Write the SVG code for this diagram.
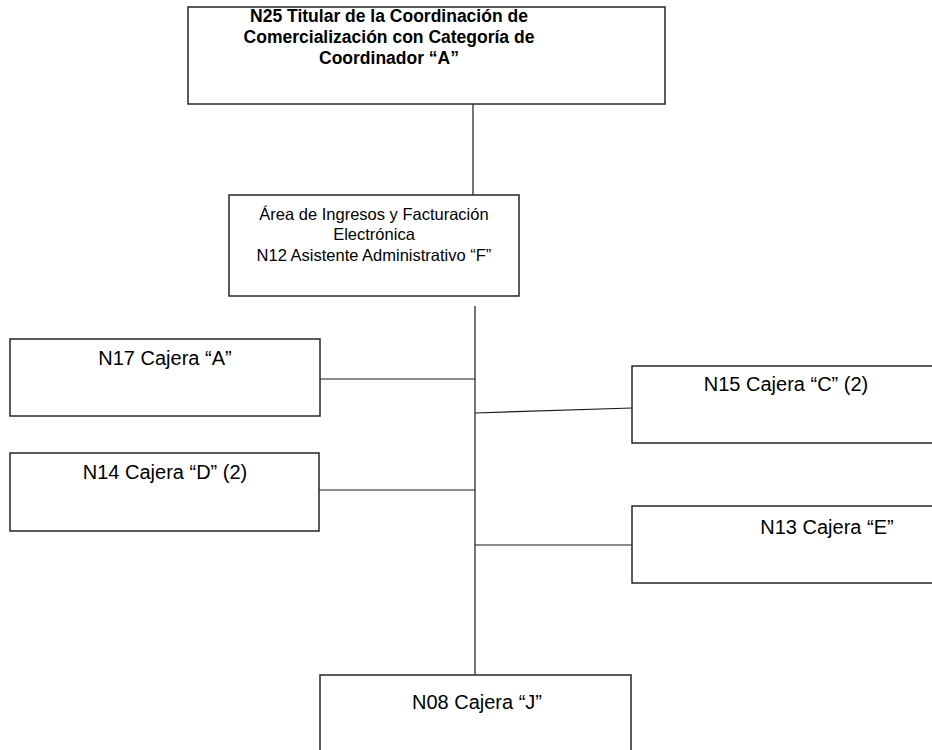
<svg xmlns="http://www.w3.org/2000/svg" width="932" height="750" viewBox="0 0 932 750">
<style>
.box{fill:#fff;stroke:#262626;stroke-width:1.5}
.t{font-family:"Liberation Sans",Arial,sans-serif;fill:#000;text-anchor:middle}
.b{font-weight:bold;font-size:17.5px}
.m{font-size:16.5px}
.c{font-size:20px}
.ln{stroke:#1a1a1a;stroke-width:1.2;fill:none}
</style>
<rect width="932" height="750" fill="#fff"/>
<g id="connectors">
<line class="ln" x1="473" y1="104" x2="473" y2="195"/>
<line class="ln" x1="475" y1="306" x2="475" y2="675"/>
<line class="ln" x1="320" y1="379" x2="475" y2="379"/>
<line class="ln" x1="475" y1="413" x2="632" y2="408"/>
<line class="ln" x1="319" y1="490" x2="475" y2="490"/>
<line class="ln" x1="475" y1="545" x2="632" y2="545"/>
</g>
<g id="n25">
<rect class="box" x="188" y="7" width="477" height="97"/>
<text class="t b" x="389" y="22">N25 Titular de la Coordinación de</text>
<text class="t b" x="389" y="43">Comercialización con Categoría de</text>
<text class="t b" x="389" y="64">Coordinador “A”</text>
</g>
<g id="n12">
<rect class="box" x="229" y="195" width="290" height="101"/>
<text class="t m" x="374" y="220">Área de Ingresos y Facturación</text>
<text class="t m" x="374" y="240">Electrónica</text>
<text class="t m" x="374" y="261">N12 Asistente Administrativo “F”</text>
</g>
<g id="n17">
<rect class="box" x="10" y="339" width="310" height="77"/>
<text class="t c" x="165" y="365">N17 Cajera “A”</text>
</g>
<g id="n15">
<rect class="box" x="632" y="366" width="310" height="77"/>
<text class="t c" x="786" y="391">N15 Cajera “C” (2)</text>
</g>
<g id="n14">
<rect class="box" x="10" y="453" width="309" height="78"/>
<text class="t c" x="165" y="479">N14 Cajera “D” (2)</text>
</g>
<g id="n13">
<rect class="box" x="632" y="506" width="310" height="77"/>
<text class="t c" x="827" y="534">N13 Cajera “E”</text>
</g>
<g id="n08">
<rect class="box" x="320" y="675" width="311" height="90"/>
<text class="t c" x="477" y="709">N08 Cajera “J”</text>
</g>
</svg>
